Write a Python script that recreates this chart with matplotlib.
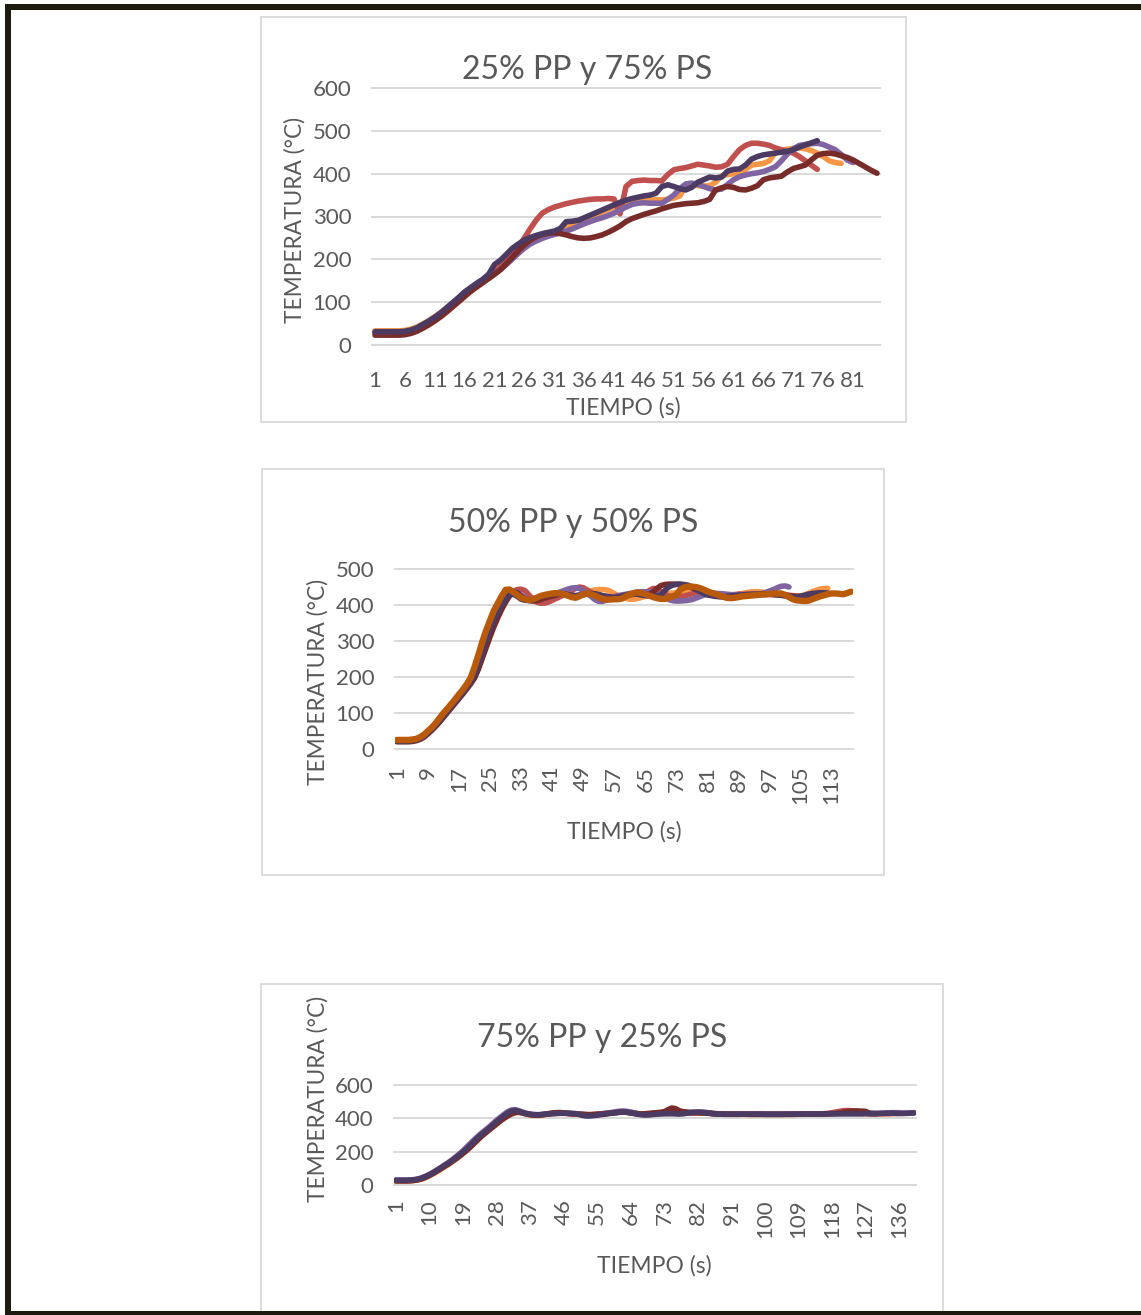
import numpy as np
import matplotlib
matplotlib.use("Agg")
import matplotlib.pyplot as plt
from matplotlib.patches import Rectangle

W, H = 1141, 1315
plt.rcParams['font.family'] = ['Lato', 'DejaVu Sans']
TXT = '#595959'
GRID = '#D9D9D9'

# ---- colours (Excel style) ----
C_LO = '#F79646'   # light orange
C_R = '#C0504D'    # red
C_LP = '#8064A2'   # light purple
C_DR = '#772C2A'   # dark red
C_DP = '#4B3A62'   # dark purple
C_DO = '#B85A0A'   # dark orange

# ---- data: 25% PP y 75% PS ----
c1_lo = [33, 33, 33, 33, 33, 34, 37, 42, 49, 57,
         66, 76, 87, 98, 110, 121, 132, 142, 152, 161,
         172, 183, 196, 210, 224, 236, 245, 251, 256, 260,
         264, 268, 274, 280, 286, 292, 298, 304, 310, 316,
         322, 328, 332, 335, 337, 338, 338, 339, 339, 340,
         343, 348, 372, 374, 372, 371, 372, 380, 395, 398,
         400, 402, 410, 420, 422, 424, 430, 450, 455, 457,
         459, 460, 458, 454, 448, 440, 430, 426, 424]
c1_r = [28, 28, 28, 28, 29, 30, 33, 38, 45, 52,
        60, 68, 80, 92, 104, 116, 128, 138, 148, 158,
        170, 182, 196, 212, 230, 250, 272, 292, 308, 316,
        322, 326, 330, 333, 336, 338, 340, 341, 341, 342,
        341, 306, 370, 382, 384, 385, 384, 384, 383, 398,
        409, 412, 414, 418, 422, 420, 418, 415, 416, 422,
        440, 456, 466, 471, 471, 469, 466, 460, 456, 452,
        448, 440, 430, 420, 410]
c1_lp = [30, 30, 30, 30, 30, 31, 34, 39, 46, 54,
         63, 73, 84, 96, 107, 118, 128, 138, 147, 156,
         166, 176, 188, 201, 214, 226, 236, 243, 249, 254,
         258, 262, 266, 271, 277, 283, 288, 293, 297, 302,
         308, 315, 322, 328, 331, 332, 331, 331, 331, 340,
         350, 365, 376, 378, 375, 370, 365, 362, 364, 375,
         386, 393, 397, 400, 402, 405, 410, 416, 430, 446,
         458, 466, 468, 470, 471, 468, 462, 456, 445, 432,
         426]
c1_dr = [23, 23, 23, 23, 23, 24, 27, 32, 39, 47,
         56, 66, 77, 89, 101, 113, 125, 135, 145, 155,
         165, 176, 190, 205, 220, 234, 245, 253, 258, 261,
         262, 260, 257, 253, 250, 249, 250, 253, 257, 263,
         270, 278, 288, 295, 300, 305, 309, 313, 318, 322,
         326, 328, 330, 331, 332, 335, 340, 362, 367, 370,
         368, 363, 362, 366, 372, 386, 390, 392, 394, 404,
         412, 416, 420, 432, 443, 447, 448, 446, 442, 438,
         432, 424, 416, 408, 401]
c1_dp = [31, 31, 31, 31, 31, 32, 35, 40, 48, 56,
         65, 75, 87, 99, 111, 124, 134, 144, 153, 165,
         188, 198, 212, 226, 236, 245, 251, 256, 260, 263,
         266, 272, 288, 289, 291, 297, 303, 309, 315, 321,
         327, 333, 338, 342, 345, 348, 350, 354, 370, 374,
         370, 365, 362, 368, 380, 386, 392, 390, 392, 406,
         410, 411, 420, 434, 440, 444, 446, 448, 450, 452,
         456, 462, 467, 472, 477]

# ---- data: 50% PP y 50% PS ----
c2_lo = [26, 26, 26, 26, 27, 29, 33, 40, 49, 59,
         70, 82, 95, 108, 121, 134, 147, 161, 175, 190,
         208, 236, 268, 300, 330, 358, 382, 404, 422, 436,
         440, 436, 426, 418, 414, 412, 413, 416, 420, 424,
         427, 430, 432, 432, 430, 428, 426, 426, 430, 435,
         439, 442, 443, 443, 442, 438, 432, 426, 421, 418,
         416, 416, 418, 421, 424, 426, 427, 428, 428, 430,
         432, 433, 434, 436, 438, 440, 441, 440, 438, 435,
         432, 430, 428, 427, 426, 426, 427, 428, 430, 432,
         434, 436, 437, 437, 436, 434, 432, 430, 428, 427,
         426, 425, 424, 424, 425, 428, 432, 437, 441, 444,
         446, 446]
c2_r = [22, 22, 22, 22, 23, 25, 29, 35, 44, 54,
        65, 77, 90, 103, 116, 129, 142, 156, 170, 184,
        200, 226, 258, 290, 320, 348, 372, 394, 412, 428,
        438, 443, 444, 440, 428, 416, 408, 405, 405, 408,
        413, 418, 423, 428, 434, 440, 446, 450, 448, 442,
        435, 430, 427, 425, 424, 423, 423, 424, 425, 427,
        429, 431, 432, 432, 434, 440, 446, 445, 438, 430,
        425, 423, 422, 423, 425, 428, 431, 433, 433, 432,
        430, 428, 427, 426, 426, 427, 428, 429, 430, 430,
        430, 431, 431, 431, 431, 430, 429, 428, 428, 428,
        428, 427, 426, 425, 425, 426, 428, 430, 432, 433,
        433]
c2_lp = [24, 24, 24, 24, 25, 27, 31, 38, 47, 57,
         68, 80, 93, 106, 119, 132, 145, 159, 173, 188,
         206, 234, 266, 298, 328, 356, 380, 402, 420, 432,
         438, 436, 428, 420, 416, 414, 414, 416, 420, 424,
         428, 432, 436, 440, 444, 447, 448, 446, 440, 432,
         424, 415, 410, 410, 414, 419, 423, 426, 428, 430,
         432, 434, 436, 437, 437, 436, 435, 432, 427, 420,
         415, 412, 411, 411, 412, 413, 415, 419, 423, 427,
         430, 432, 432, 432, 431, 430, 429, 428, 428, 428,
         428, 428, 429, 430, 432, 435, 439, 443, 448, 452,
         453, 450]
c2_dr = [20, 20, 20, 20, 21, 23, 27, 33, 42, 52,
         63, 75, 88, 101, 114, 127, 140, 153, 167, 181,
         197, 222, 252, 282, 312, 340, 365, 388, 408, 425,
         436, 434, 424, 416, 412, 411, 412, 415, 419, 422,
         425, 428, 430, 430, 428, 426, 425, 426, 428, 430,
         431, 430, 428, 425, 422, 420, 420, 422, 424, 426,
         428, 430, 430, 429, 428, 430, 436, 446, 454, 457,
         458, 458, 458, 457, 455, 452, 448, 443, 438, 434,
         430, 428, 426, 424, 423, 422, 422, 423, 424, 425,
         426, 427, 428, 428, 429, 429, 430, 430, 430, 429,
         428, 426, 424, 423, 423, 425, 427, 429, 431, 432,
         432]
c2_dp = [22, 22, 22, 22, 23, 25, 29, 36, 45, 55,
         66, 78, 91, 104, 117, 130, 143, 157, 171, 186,
         205, 235, 268, 300, 330, 358, 380, 400, 418, 428,
         430, 424, 416, 413, 413, 415, 419, 423, 426, 428,
         430, 431, 432, 431, 429, 427, 426, 428, 430, 431,
         432, 431, 429, 426, 424, 422, 421, 422, 425, 428,
         430, 431, 430, 428, 426, 425, 424, 425, 428, 440,
         450, 455, 457, 458, 457, 455, 450, 444, 438, 432,
         428, 426, 424, 423, 423, 424, 425, 426, 427, 428,
         429, 429, 430, 430, 431, 431, 430, 430, 428, 427,
         425, 423, 422, 422, 424, 427, 430, 432, 433, 434,
         434, 433]
c2_do = [25, 25, 25, 25, 26, 28, 33, 40, 50, 60,
         72, 86, 100, 112, 125, 138, 152, 165, 180, 198,
         228, 262, 298, 330, 358, 385, 405, 425, 442, 443,
         436, 428, 420, 416, 414, 416, 420, 425, 428, 430,
         432, 433, 432, 430, 426, 422, 420, 424, 430, 432,
         430, 426, 421, 417, 415, 415, 416, 416, 418, 424,
         429, 433, 435, 433, 430, 426, 422, 419, 417, 417,
         420, 424, 428, 443, 449, 451, 451, 450, 447, 443,
         438, 434, 431, 427, 423, 420, 419, 420, 422, 424,
         425, 426, 427, 428, 429, 430, 431, 432, 432, 432,
         428, 422, 416, 413, 412, 411, 412, 416, 420, 424,
         427, 430, 432, 432, 431, 430, 433, 437]

# ---- data: 75% PP y 25% PS ----
c3_lo = [24, 24, 24, 24, 25, 27, 30, 36, 44, 55,
         67, 80, 94, 108, 122, 137, 153, 170, 188, 207,
         228, 250, 272, 293, 312, 330, 348, 366, 384, 402,
         418, 430, 438, 438, 432, 425, 420, 417, 417, 419,
         422, 425, 428, 430, 431, 431, 430, 428, 426, 424,
         422, 421, 421, 422, 424, 426, 428, 430, 433, 436,
         438, 439, 437, 434, 430, 426, 424, 423, 424, 426,
         428, 430, 432, 434, 436, 437, 436, 434, 432, 431,
         431, 432, 433, 433, 432, 430, 428, 427, 426, 425,
         424, 424, 424, 424, 424, 424, 424, 424, 424, 424,
         424, 424, 424, 424, 424, 424, 424, 424, 424, 424,
         425, 425, 426, 426, 426, 427, 428, 430, 432, 434,
         436, 437, 436, 434, 432, 430, 429, 428, 428, 428,
         428, 428, 428, 428]
c3_r = [26, 26, 26, 26, 27, 29, 33, 39, 48, 59,
        71, 85, 99, 113, 128, 143, 159, 176, 194, 213,
        234, 256, 278, 298, 317, 335, 354, 373, 391, 408,
        424, 436, 442, 440, 433, 427, 423, 421, 421, 422,
        425, 428, 431, 432, 432, 431, 429, 427, 425, 424,
        423, 422, 422, 423, 425, 427, 429, 431, 433, 435,
        437, 438, 437, 434, 430, 427, 425, 425, 427, 430,
        432, 434, 436, 438, 440, 440, 438, 436, 434, 433,
        432, 432, 432, 431, 430, 428, 427, 426, 426, 425,
        425, 425, 425, 425, 424, 424, 424, 424, 424, 424,
        424, 424, 424, 424, 424, 424, 424, 425, 425, 425,
        426, 426, 426, 427, 427, 428, 430, 434, 438, 442,
        446, 447, 446, 444, 440, 434, 430, 428, 428, 428,
        428, 428, 428, 429, 429, 430]
c3_lp = [30, 30, 30, 30, 31, 33, 37, 44, 53, 64,
         76, 90, 104, 119, 134, 150, 168, 186, 206, 228,
         250, 272, 293, 312, 330, 348, 368, 388, 406, 424,
         440, 450, 452, 446, 438, 431, 426, 423, 422, 423,
         425, 427, 429, 430, 431, 431, 431, 430, 429, 427,
         424, 421, 420, 421, 423, 426, 429, 432, 436, 440,
         443, 444, 442, 438, 433, 428, 425, 424, 424, 425,
         426, 427, 428, 429, 429, 429, 428, 428, 430, 433,
         436, 438, 438, 436, 433, 430, 428, 427, 426, 426,
         426, 426, 426, 426, 426, 426, 426, 426, 426, 425,
         425, 425, 425, 425, 425, 426, 426, 426, 426, 426,
         427, 427, 427, 427, 427, 427, 428, 428, 428, 428,
         429, 429, 429, 429, 429, 429, 430, 430, 430, 430,
         431, 432, 433, 434, 434, 433, 432, 432, 433, 434]
c3_dr = [25, 25, 25, 25, 26, 28, 32, 38, 47, 58,
         70, 83, 97, 111, 125, 140, 156, 172, 190, 208,
         228, 250, 272, 293, 312, 330, 348, 366, 384, 400,
         414, 426, 434, 436, 432, 426, 422, 420, 420, 421,
         424, 428, 432, 434, 435, 433, 430, 428, 426, 425,
         424, 423, 422, 423, 424, 426, 428, 430, 432, 434,
         436, 437, 436, 433, 430, 427, 426, 428, 430, 432,
         434, 436, 440, 452, 462, 458, 446, 440, 438, 436,
         435, 434, 433, 432, 430, 428, 427, 426, 426, 425,
         425, 425, 425, 425, 425, 424, 424, 424, 424, 424,
         424, 424, 424, 424, 424, 424, 424, 424, 425, 425,
         425, 426, 426, 426, 426, 427, 427, 428, 430, 432,
         436, 440, 443, 444, 444, 443, 442, 430, 428, 428]
c3_dp = [28, 28, 28, 28, 29, 31, 35, 42, 51, 62,
         74, 88, 102, 116, 130, 146, 162, 180, 198, 218,
         240, 262, 284, 304, 322, 340, 360, 380, 398, 416,
         432, 444, 448, 442, 434, 428, 424, 422, 421, 422,
         424, 426, 428, 429, 430, 430, 430, 429, 428, 424,
         418, 414, 414, 416, 419, 422, 425, 428, 431, 434,
         437, 438, 436, 432, 428, 424, 421, 420, 421, 423,
         425, 427, 428, 428, 428, 427, 426, 428, 431, 434,
         436, 437, 436, 434, 431, 428, 426, 425, 424, 424,
         424, 424, 424, 425, 425, 425, 425, 425, 425, 424,
         424, 424, 424, 424, 424, 425, 425, 425, 425, 425,
         426, 426, 426, 426, 426, 426, 427, 427, 427, 427,
         427, 427, 427, 427, 427, 427, 428, 428, 428, 428,
         429, 430, 431, 431, 430, 429, 429, 430, 431, 432]

charts = [
    dict(title="25% PP y 75% PS", n=85, step=5, ymax=600, ystep=100,
         series=[(c1_lo, C_LO), (c1_r, C_R), (c1_lp, C_LP), (c1_dr, C_DR), (c1_dp, C_DP)],
         box=(372, 88, 880, 345), rot=0, xpad=19, ypad=15,
         title_xy=(587, 70), ylab_xy=(295, 220), xlab_xy=(623, 408)),
    dict(title="50% PP y 50% PS", n=118, step=8, ymax=500, ystep=100,
         series=[(c2_lo, C_LO), (c2_r, C_R), (c2_lp, C_LP), (c2_dr, C_DR), (c2_dp, C_DP), (c2_do, C_DO)],
         box=(395, 569, 853, 749), rot=90, xpad=12, ypad=15,
         title_xy=(573, 523), ylab_xy=(318, 682), xlab_xy=(624, 832)),
    dict(title="75% PP y 25% PS", n=140, step=9, ymax=600, ystep=200,
         series=[(c3_lo, C_LO), (c3_r, C_R), (c3_lp, C_LP), (c3_dr, C_DR), (c3_dp, C_DP)],
         box=(394, 1085, 916, 1185), rot=90, xpad=10, ypad=15,
         title_xy=(602, 1038), ylab_xy=(318, 1099), xlab_xy=(654, 1266)),
]

fig = plt.figure(figsize=(W / 100, H / 100), dpi=100)
fig.patch.set_facecolor('white')


def fx(x):
    return x / W


def fy(y):
    return 1 - y / H


# panel borders
for (x0, y0, x1, y1) in [(261, 17, 906, 422), (262, 469, 884, 875), (261, 984, 943, 1330)]:
    fig.add_artist(Rectangle((fx(x0), fy(y1)), (x1 - x0) / W, (y1 - y0) / H,
                             transform=fig.transFigure, fill=False,
                             ec=GRID, lw=1.3))

for ch in charts:
    x0, y0, x1, y1 = ch['box']
    ax = fig.add_axes([fx(x0), fy(y1), (x1 - x0) / W, (y1 - y0) / H])
    ax.set_facecolor('none')
    ax.set_xlim(0.5, ch['n'] + 0.5)
    ax.set_ylim(0, ch['ymax'])
    yt = np.arange(0, ch['ymax'] + 1, ch['ystep'])
    ax.set_yticks(yt)
    ax.set_yticklabels([str(v) for v in yt])
    xt = np.arange(1, ch['n'] + 1, ch['step'])
    ax.set_xticks(xt)
    ax.set_xticklabels([str(v) for v in xt], rotation=ch['rot'])
    for v in yt:
        ax.axhline(v, color=GRID, lw=1.4, zorder=0, clip_on=False)
    for s in ax.spines.values():
        s.set_visible(False)
    ax.tick_params(axis='both', length=0, colors=TXT, labelsize=16)
    ax.tick_params(axis='x', pad=ch['xpad'])
    ax.tick_params(axis='y', pad=ch['ypad'])
    for vals, col in ch['series']:
        xs = np.arange(1, len(vals) + 1)
        lw = 4.6 if col == C_DO else 4.0
        ax.plot(xs, vals, color=col, lw=lw, solid_capstyle='round',
                solid_joinstyle='round', zorder=2)

    tx, ty = ch['title_xy']
    fig.text(fx(tx), fy(ty), ch['title'], ha='center', va='center',
             fontsize=23, color=TXT)
    lx, ly = ch['ylab_xy']
    fig.text(fx(lx), fy(ly), "TEMPERATURA (°C)", ha='center', va='center',
             rotation=90, fontsize=16.3, color=TXT)
    bx, by = ch['xlab_xy']
    fig.text(fx(bx), fy(by), "TIEMPO (s)", ha='center', va='center',
             fontsize=16.5, color=TXT)

# black page frame
FR = '#1D1A10'
fig.add_artist(Rectangle((fx(5), fy(10)), (W - 5) / W, 6 / H,
                         transform=fig.transFigure, color=FR, lw=0))
fig.add_artist(Rectangle((fx(5), fy(1313)), 6 / W, (1313 - 4) / H,
                         transform=fig.transFigure, color=FR, lw=0))
fig.add_artist(Rectangle((fx(5), fy(1315)), (W - 5) / W, 4 / H,
                         transform=fig.transFigure, color=FR, lw=0))

fig.savefig("out.png", dpi=100)
